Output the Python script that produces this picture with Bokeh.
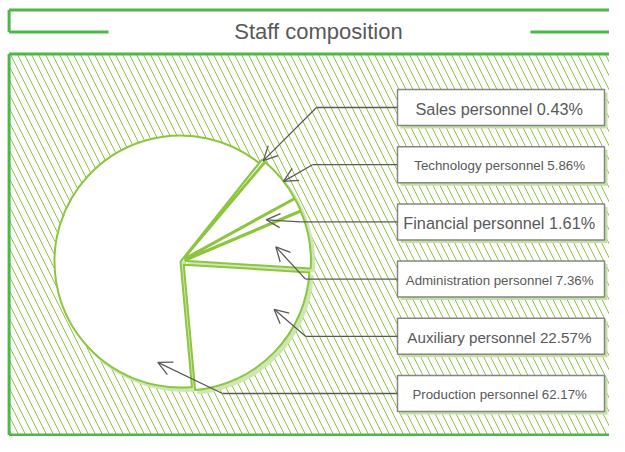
import math
from bokeh.plotting import figure
from bokeh.models import Range1d, ColumnDataSource, Arrow, OpenHead
from bokeh.core.properties import value
from bokeh.embed import file_html
from bokeh.resources import INLINE

# ---------------- data ----------------
title = "Staff composition"
categories = ["Sales personnel", "Technology personnel", "Financial personnel",
              "Administration personnel", "Auxiliary personnel", "Production personnel"]
shares = [0.43, 5.86, 1.61, 7.36, 22.57, 62.17]

# ---------------- layout / style ----------------
W, H = 609, 436          # figure size (page has 8px margin)


def Y(sy):
    """picture-y (pixels, downwards) -> data y (upwards)"""
    return H - sy


CX, CY, R = 180.0, Y(261.0), 126.0    # pie centre / radius
START_DEG = 51.4                       # angle where the first slice begins (clockwise order)
explode = [4.5, 4.5, 4.5, 4.5, 4.5, 0.0]
label_font_px = ["16.3px", "13.3px", "16.3px", "13.3px", "15.2px", "13.3px"]
anchor_frac = [0.5, 0.43, 0.52, 0.46, 0.72, 0.92]   # position of arrow tip inside slice (angular)
anchor_rad = [1.0, 1.0, 0.72, 0.73, 0.80, 0.82]     # position of arrow tip (radial)
elbow_x = [316, 312, 300, 305, 305, 222]
BOX_L, BOX_R, BOX_TOP0, BOX_STEP, BOX_H = 397, 604, 89, 57.2, 36

GREEN_FRAME = "#4cb848"
GREEN_PIE = "#8cc63f"
GREEN_SHADOW = "#cde6b2"
HATCH = "#8dc63f"
TEXT = "#595959"
FONT = value("Liberation Sans")

p = figure(width=W, height=H, output_backend="svg", toolbar_location=None,
           x_range=Range1d(0, W), y_range=Range1d(0, H),
           min_border=0, outline_line_color=None,
           x_axis_location=None, y_axis_location=None)
p.grid.visible = False
p.background_fill_color = "white"
p.border_fill_color = "white"

# ---------------- title frame ----------------
p.multi_line(xs=[[8.6, 630], [8.6, 8.6], [8.6, 108], [530, 630]],
             ys=[[Y(9.5), Y(9.5)], [Y(9.5), Y(31.5)], [Y(31.5), Y(31.5)], [Y(31.5), Y(31.5)]],
             line_color=GREEN_FRAME, line_width=3)
p.text(x=[318], y=[Y(31)], text=[title], text_align="center", text_baseline="middle",
       text_font=FONT, text_font_size="22px", text_color=TEXT)

# ---------------- hatched panel ----------------
p.quad(left=[8.6], right=[630], top=[Y(53.5)], bottom=[Y(434.5)],
       fill_color="white", line_color=None,
       hatch_pattern="\\", hatch_color=HATCH, hatch_scale=14, hatch_weight=1, hatch_alpha=1.0)
p.multi_line(xs=[[8.6, 630], [8.6, 8.6], [8.6, 630]],
             ys=[[Y(53.5), Y(53.5)], [Y(53.5), Y(434.5)], [Y(434.5), Y(434.5)]],
             line_color=GREEN_FRAME, line_width=3)

# ---------------- pie ----------------
lo, hi, ax, ay = [], [], [], []
acc = 0.0
for s, e in zip(shares, explode):
    t_hi = START_DEG - 3.6 * acc
    t_lo = t_hi - 3.6 * s
    acc += s
    mid = math.radians((t_lo + t_hi) / 2)
    lo.append(t_lo)
    hi.append(t_hi)
    ax.append(CX + e * math.cos(mid))
    ay.append(CY + e * math.sin(mid))

pie = ColumnDataSource(dict(x=ax, y=ay, sx=[v + 3 for v in ax], sy=[v - 3 for v in ay],
                            lo=lo, hi=hi))
p.wedge(x="sx", y="sy", radius=R + 0.5, start_angle="lo", end_angle="hi",
        start_angle_units="deg", end_angle_units="deg", source=pie,
        fill_color=GREEN_SHADOW, line_color=GREEN_SHADOW, line_width=1.5)
p.wedge(x="x", y="y", radius=R, start_angle="lo", end_angle="hi",
        start_angle_units="deg", end_angle_units="deg", source=pie,
        fill_color="white", line_color=GREEN_PIE, line_width=2)

# ---------------- labels ----------------
n = len(categories)
box_cy = [BOX_TOP0 + BOX_STEP * i + BOX_H / 2 for i in range(n)]
labels = [f"{c}  {s:.2f}%" for c, s in zip(categories, shares)]

p.quad(left=[BOX_L + 3] * n, right=[BOX_R + 3] * n,
       top=[Y(c - BOX_H / 2 + 3) for c in box_cy], bottom=[Y(c + BOX_H / 2 + 3) for c in box_cy],
       fill_color="#c5e0a5", line_color=None)
p.quad(left=[BOX_L] * n, right=[BOX_R] * n,
       top=[Y(c - BOX_H / 2) for c in box_cy], bottom=[Y(c + BOX_H / 2) for c in box_cy],
       fill_color="white", line_color="#858585", line_width=1.5)
lab = ColumnDataSource(dict(x=[(BOX_L + BOX_R) / 2 + 0.5] * n, y=[Y(c + 1) for c in box_cy],
                            text=labels, size=label_font_px))
p.text(x="x", y="y", text="text", source=lab, text_align="center", text_baseline="middle",
       text_font=FONT, text_font_size="size", text_color=TEXT)

# ---------------- leader arrows ----------------
tip_x, tip_y = [], []
for i in range(n):
    ang = math.radians(lo[i] + anchor_frac[i] * (hi[i] - lo[i]))
    tip_x.append(ax[i] + anchor_rad[i] * R * math.cos(ang))
    tip_y.append(ay[i] + anchor_rad[i] * R * math.sin(ang))

p.segment(x0=[BOX_L] * n, y0=[Y(c) for c in box_cy], x1=elbow_x, y1=[Y(c) for c in box_cy],
          line_color=TEXT, line_width=1.3)
arr = ColumnDataSource(dict(x0=elbow_x, y0=[Y(c) for c in box_cy], x1=tip_x, y1=tip_y))
p.add_layout(Arrow(end=OpenHead(size=14, line_color=TEXT, line_width=1.3),
                   x_start="x0", y_start="y0", x_end="x1", y_end="y1", source=arr,
                   line_color=TEXT, line_width=1.3))

open("out.html", "w").write(file_html(p, INLINE))
